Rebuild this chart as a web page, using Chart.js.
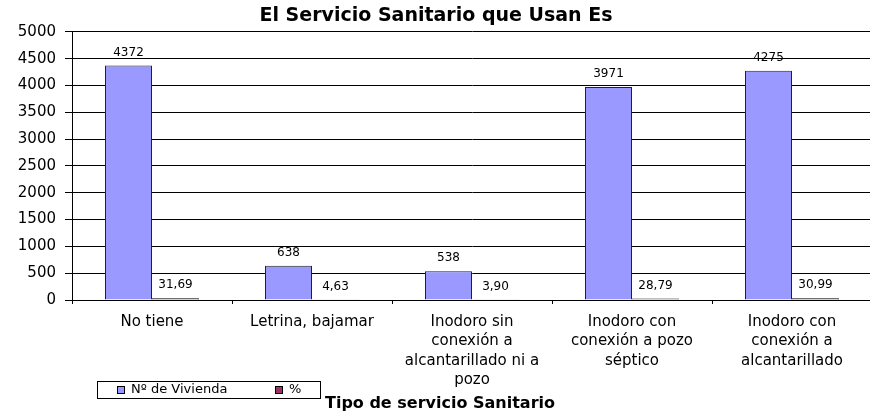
<!DOCTYPE html>
<html>
<head>
<meta charset="utf-8">
<script src="https://cdn.jsdelivr.net/npm/chart.js@4.4.1/dist/chart.umd.min.js"></script>
<style>
  html, body { margin: 0; padding: 0; background: #fff; overflow: hidden; }
  #wrap { width: 880px; height: 413px; }
</style>
</head>
<body>
<div id="wrap"><canvas id="chart" width="880" height="413"></canvas></div>
<script>
// data
const categories = [
  ["No tiene"],
  ["Letrina, bajamar"],
  ["Inodoro sin", "conexión a", "alcantarillado ni a", "pozo"],
  ["Inodoro con", "conexión a pozo", "séptico"],
  ["Inodoro con", "conexión a", "alcantarillado"]
];
const viviendas = [4372, 638, 538, 3971, 4275];
const porcentaje = [31.69, 4.63, 3.90, 28.79, 30.99];
const yTicks = [0, 500, 1000, 1500, 2000, 2500, 3000, 3500, 4000, 4500, 5000];

const FONT = "'DejaVu Sans', sans-serif";

// value labels above each bar
const valueLabels = {
  id: "valueLabels",
  afterDatasetsDraw(chart) {
    const ctx = chart.ctx;
    ctx.save();
    ctx.font = "12px " + FONT;
    ctx.fillStyle = "#000";
    ctx.textAlign = "center";
    ctx.textBaseline = "middle";
    chart.data.datasets.forEach((ds, di) => {
      const meta = chart.getDatasetMeta(di);
      meta.data.forEach((bar, i) => {
        const v = ds.data[i];
        const txt = di === 0 ? String(v) : v.toFixed(2).replace(".", ",");
        ctx.fillText(txt, bar.x, bar.y - 13);
      });
    });
    ctx.restore();
  }
};

// boxed legend bottom-left + axis title
const legendAndTitle = {
  id: "legendAndTitle",
  afterDraw(chart) {
    const ctx = chart.ctx;
    ctx.save();
    ctx.strokeStyle = "#000";
    ctx.lineWidth = 1;
    ctx.strokeRect(97.5, 381.5, 223, 17);
    ctx.font = "13px " + FONT;
    ctx.textBaseline = "middle";
    ctx.textAlign = "left";
    const items = [{ x: 117, tx: 131 }, { x: 275, tx: 289 }];
    chart.data.datasets.forEach((ds, i) => {
      const it = items[i];
      ctx.fillStyle = ds.backgroundColor;
      ctx.fillRect(it.x, 386, 8, 8);
      ctx.strokeStyle = "#000";
      ctx.strokeRect(it.x + 0.5, 386.5, 7, 7);
      ctx.fillStyle = "#000";
      ctx.fillText(ds.label, it.tx, 390);
    });
    ctx.font = "bold 16px " + FONT;
    ctx.textAlign = "center";
    ctx.fillText("Tipo de servicio Sanitario", 440, 404);
    ctx.restore();
  }
};

new Chart(document.getElementById("chart"), {
  type: "bar",
  data: {
    labels: categories,
    datasets: [
      { label: "Nº de Vivienda", data: viviendas, backgroundColor: "#9999ff", borderColor: "#222", borderWidth: 1 },
      { label: "%", data: porcentaje, backgroundColor: "#993366", borderColor: "#000", borderWidth: 1 }
    ]
  },
  options: {
    responsive: false,
    animation: false,
    layout: { padding: { left: 0, right: 8, top: 0, bottom: 0 } },
    datasets: { bar: { barPercentage: 1, categoryPercentage: 0.5875 } },
    plugins: {
      legend: { display: false },
      tooltip: { enabled: false },
      title: {
        display: true,
        text: "El Servicio Sanitario que Usan Es",
        color: "#000",
        font: { family: FONT, size: 19, weight: "bold" },
        padding: { top: 5, bottom: 4 }
      }
    },
    scales: {
      x: {
        grid: { display: true, drawOnChartArea: false, offset: true, tickLength: 4, color: "#000" },
        border: { color: "#000", width: 1 },
        ticks: { color: "#000", font: { family: FONT, size: 15, lineHeight: 1.3 }, padding: 8, maxRotation: 0, autoSkip: false },
        afterFit(scale) { scale.height = 113; }
      },
      y: {
        min: 0,
        max: 5000,
        afterBuildTicks(scale) { scale.ticks = yTicks.map(v => ({ value: v })); },
        grid: { color: "#000", lineWidth: 1, tickLength: 7 },
        border: { color: "#000", width: 1 },
        ticks: { color: "#000", font: { family: FONT, size: 15 }, padding: 9, callback: v => String(v) },
        afterFit(scale) { scale.width = 72; }
      }
    }
  },
  plugins: [valueLabels, legendAndTitle]
});
</script>
</body>
</html>
